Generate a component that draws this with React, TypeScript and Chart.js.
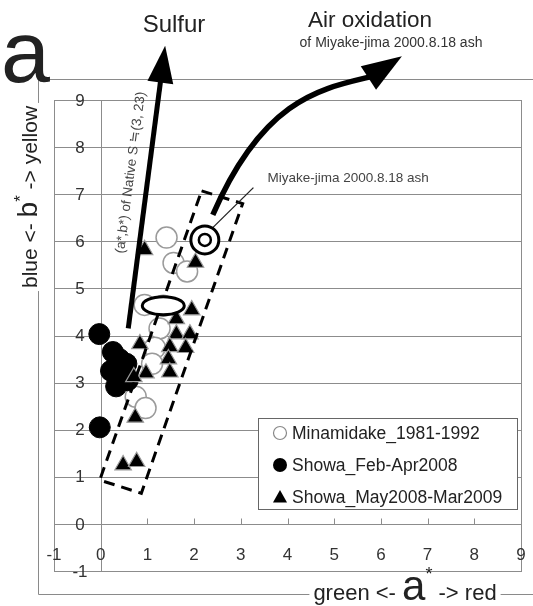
import { useEffect, useRef } from 'react';
import { Chart, registerables } from 'chart.js';

Chart.register(...registerables);

// CIE L*a*b* colour coordinates (a*, b*) of the ash samples
const minamidakeA = [1.41, 1.56, 1.85, 0.94, 1.34, 1.26, 1.16, 1.1, 0.75, 0.96];
const minamidakeB = [6.08, 5.54, 5.36, 4.65, 4.63, 4.15, 3.74, 3.4, 2.7, 2.46];

const showaEarlyA = [-0.03, -0.02, 0.26, 0.22, 0.33, 0.55, 0.58, 0.4];
const showaEarlyB = [4.03, 2.05, 3.65, 3.25, 2.92, 3.4, 3.05, 3.5];

const showaLateA = [0.94, 2.03, 1.95, 1.62, 1.62, 1.91, 0.84, 1.48, 1.82, 1.45, 1.48, 0.97, 0.71, 0.74, 0.48, 0.77];
const showaLateB = [5.82, 5.55, 4.54, 4.35, 4.03, 4.03, 3.82, 3.76, 3.74, 3.5, 3.22, 3.2, 3.12, 2.26, 1.25, 1.32];

const seriesNames = ['Minamidake_1981-1992', 'Showa_Feb-Apr2008', 'Showa_May2008-Mar2009'];

const xTicks = [-1, 0, 1, 2, 3, 4, 5, 6, 7, 8, 9];
const yTicks = [-1, 0, 1, 2, 3, 4, 5, 6, 7, 8, 9];

// reference marks and trend annotations, in (a*, b*) units
const miyakeAsh = [2.23, 6.03];
const minamidakeCentre = [1.34, 4.63];
const clusterBox = [[2.16, 7.07], [3.04, 6.8], [0.87, 0.65], [-0.02, 0.93]];
const sulfurFrom = [0.59, 4.15];
const sulfurTip = [1.38, 10.15];
const oxidationPath = [[2.4, 6.56], [3.51, 9.1], [4.79, 9.25], [5.77, 9.49]];
const oxidationTip = [6.45, 9.93];
const miyakeLeader = [[2.4, 6.29], [3.27, 7.14]];
const nativeSLabelAt = [0.645, 7.46];

const FONT = '"Liberation Sans", Arial, sans-serif';
const INK = '#222';
const GRID = '#8c8c8c';

type Run = { t: string; size: number; rise?: number };

function runsWidth(ctx: CanvasRenderingContext2D, runs: Run[]) {
  let w = 0;
  for (const r of runs) {
    ctx.font = `${r.size}px ${FONT}`;
    w += ctx.measureText(r.t).width;
  }
  return w;
}

function drawRuns(ctx: CanvasRenderingContext2D, runs: Run[], cx: number, baseline: number) {
  const w = runsWidth(ctx, runs);
  let x = cx - w / 2;
  ctx.textAlign = 'left';
  ctx.textBaseline = 'alphabetic';
  for (const r of runs) {
    ctx.font = `${r.size}px ${FONT}`;
    ctx.fillText(r.t, x, baseline - (r.rise || 0));
    x += ctx.measureText(r.t).width;
  }
  return w;
}

function arrowHead(ctx: CanvasRenderingContext2D, tip: number[], from: number[], len: number, half: number) {
  const dx = tip[0] - from[0];
  const dy = tip[1] - from[1];
  const d = Math.hypot(dx, dy);
  const ux = dx / d;
  const uy = dy / d;
  const bx = tip[0] - ux * len;
  const by = tip[1] - uy * len;
  ctx.beginPath();
  ctx.moveTo(tip[0], tip[1]);
  ctx.lineTo(bx - uy * half, by + ux * half);
  ctx.lineTo(bx + uy * half, by - ux * half);
  ctx.closePath();
  ctx.fill();
  return [bx + ux * 4, by + uy * 4];
}

function toPx(chart: Chart, p: number[]) {
  return [chart.scales.x.getPixelForValue(p[0]), chart.scales.y.getPixelForValue(p[1])];
}

// Axes, frame, grid and titles, drawn under the points
const backdrop = {
  id: 'backdrop',
  beforeDatasetsDraw(chart: Chart) {
    const ctx = chart.ctx;
    const xs = chart.scales.x;
    const ys = chart.scales.y;
    const left = Math.round(xs.getPixelForValue(-1)) + 0.5;
    const right = Math.round(xs.getPixelForValue(9)) + 0.5;
    const top = Math.round(ys.getPixelForValue(9)) + 0.5;
    const bottom = Math.round(ys.getPixelForValue(-1)) + 0.5;
    ctx.save();
    ctx.fillStyle = '#fff';
    ctx.fillRect(0, 0, chart.width, chart.height);

    // outer frame
    ctx.strokeStyle = '#8a8a8a';
    ctx.lineWidth = 1;
    ctx.beginPath();
    ctx.moveTo(chart.width, 79.5);
    ctx.lineTo(38.5, 79.5);
    ctx.lineTo(38.5, 594.5);
    ctx.lineTo(chart.width, 594.5);
    ctx.stroke();

    // plot box, horizontal grid and the a* = 0 line
    ctx.strokeStyle = GRID;
    ctx.strokeRect(left, top, right - left, bottom - top);
    ctx.beginPath();
    for (const v of yTicks) {
      if (v === -1 || v === 9) continue;
      const y = Math.round(ys.getPixelForValue(v)) + 0.5;
      ctx.moveTo(left, y);
      ctx.lineTo(right, y);
    }
    const x0 = Math.round(xs.getPixelForValue(0)) + 0.5;
    ctx.moveTo(x0, top);
    ctx.lineTo(x0, bottom);
    const y0 = Math.round(ys.getPixelForValue(0)) + 0.5;
    for (const v of xTicks) {
      if (v <= 0 || v >= 9) continue;
      const x = Math.round(xs.getPixelForValue(v)) + 0.5;
      ctx.moveTo(x, y0);
      ctx.lineTo(x, y0 - 6);
    }
    ctx.stroke();

    // tick labels
    ctx.fillStyle = '#333';
    ctx.font = `17px ${FONT}`;
    ctx.textAlign = 'center';
    ctx.textBaseline = 'middle';
    for (const v of yTicks) {
      ctx.fillText(String(v), 80, ys.getPixelForValue(v) + 1);
    }
    for (const v of xTicks) {
      ctx.fillText(String(v), xs.getPixelForValue(v), 555);
    }

    // y axis title, breaking the frame line
    ctx.save();
    ctx.translate(27, 197);
    ctx.rotate(-Math.PI / 2);
    const yRuns: Run[] = [
      { t: 'blue <- ', size: 21 },
      { t: 'b', size: 28 },
      { t: '*', size: 17, rise: 11 },
      { t: ' -> yellow', size: 21 },
    ];
    const yw = runsWidth(ctx, yRuns);
    ctx.fillStyle = '#fff';
    ctx.fillRect(-yw / 2 - 3, -14, yw + 6, 30);
    ctx.fillStyle = INK;
    drawRuns(ctx, yRuns, 0, 10);
    ctx.restore();

    // x axis title
    const xRuns: Run[] = [
      { t: 'green <- ', size: 22 },
      { t: 'a', size: 42 },
      { t: '*', size: 18, rise: 20 },
      { t: ' -> red', size: 22 },
    ];
    const xw = runsWidth(ctx, xRuns);
    ctx.fillStyle = '#fff';
    ctx.fillRect(405 - xw / 2 - 4, 584, xw + 8, 22);
    ctx.fillStyle = INK;
    drawRuns(ctx, xRuns, 405, 600);

    // panel letter
    ctx.font = `88px ${FONT}`;
    ctx.textAlign = 'left';
    ctx.fillText('a', 1, 82);
    ctx.restore();
  },
};

// Trend box, arrows, reference marks, labels and legend, drawn over the points
const overlay = {
  id: 'overlay',
  afterDatasetsDraw(chart: Chart) {
    const ctx = chart.ctx;
    ctx.save();
    ctx.strokeStyle = '#000';
    ctx.fillStyle = '#000';
    ctx.lineCap = 'butt';

    // dashed envelope around the Sakurajima samples
    ctx.setLineDash([11, 7]);
    ctx.lineWidth = 3;
    ctx.beginPath();
    clusterBox.forEach((p, i) => {
      const [x, y] = toPx(chart, p);
      if (i === 0) ctx.moveTo(x, y);
      else ctx.lineTo(x, y);
    });
    ctx.closePath();
    ctx.stroke();
    ctx.setLineDash([]);

    // sulfur trend
    const sFrom = toPx(chart, sulfurFrom);
    const sTip = toPx(chart, sulfurTip);
    const sBase = arrowHead(ctx, sTip, sFrom, 37, 13);
    ctx.lineWidth = 5;
    ctx.beginPath();
    ctx.moveTo(sFrom[0], sFrom[1]);
    ctx.lineTo(sBase[0], sBase[1]);
    ctx.stroke();

    // air oxidation trend
    const op = oxidationPath.map((p) => toPx(chart, p));
    const oTip = toPx(chart, oxidationTip);
    arrowHead(ctx, oTip, op[3], 40, 14);
    ctx.lineWidth = 5.5;
    ctx.beginPath();
    ctx.moveTo(op[0][0], op[0][1]);
    ctx.bezierCurveTo(op[1][0], op[1][1], op[2][0], op[2][1], op[3][0] + 4, op[3][1] - 1);
    ctx.stroke();

    // Minamidake centre
    const mc = toPx(chart, minamidakeCentre);
    ctx.lineWidth = 3;
    ctx.fillStyle = '#fff';
    ctx.beginPath();
    ctx.ellipse(mc[0], mc[1], 21, 9, 0, 0, Math.PI * 2);
    ctx.fill();
    ctx.stroke();

    // Miyake-jima ash
    const ma = toPx(chart, miyakeAsh);
    const l0 = toPx(chart, miyakeLeader[0]);
    const l1 = toPx(chart, miyakeLeader[1]);
    ctx.strokeStyle = '#222';
    ctx.lineWidth = 1.3;
    ctx.beginPath();
    ctx.moveTo(l0[0], l0[1]);
    ctx.lineTo(l1[0], l1[1]);
    ctx.stroke();
    ctx.strokeStyle = '#000';
    ctx.lineWidth = 3;
    ctx.beginPath();
    ctx.arc(ma[0], ma[1], 14, 0, Math.PI * 2);
    ctx.fill();
    ctx.stroke();
    ctx.lineWidth = 2.5;
    ctx.beginPath();
    ctx.arc(ma[0], ma[1], 6, 0, Math.PI * 2);
    ctx.stroke();

    // labels
    ctx.fillStyle = '#444';
    ctx.textAlign = 'left';
    ctx.textBaseline = 'alphabetic';
    ctx.font = `13.5px ${FONT}`;
    ctx.fillText('Miyake-jima 2000.8.18 ash', l1[0] + 14, l1[1] - 6);

    const nl = toPx(chart, nativeSLabelAt);
    const ang = Math.atan2(sTip[1] - sFrom[1], sTip[0] - sFrom[0]);
    ctx.save();
    ctx.translate(nl[0], nl[1]);
    ctx.rotate(ang);
    ctx.textAlign = 'center';
    ctx.textBaseline = 'middle';
    ctx.font = `13.5px ${FONT}`;
    ctx.fillText('(a*,b*) of Native S \u2252(3, 23)', 0, 0);
    ctx.restore();

    ctx.fillStyle = INK;
    ctx.textAlign = 'center';
    ctx.font = `24px ${FONT}`;
    ctx.fillText('Sulfur', 174, 32);
    ctx.font = `22.5px ${FONT}`;
    ctx.fillText('Air oxidation', 370, 27);
    ctx.fillStyle = '#333';
    ctx.font = `14px ${FONT}`;
    ctx.fillText('of Miyake-jima 2000.8.18 ash', 391, 47);

    // legend
    ctx.fillStyle = '#fff';
    ctx.strokeStyle = '#666';
    ctx.lineWidth = 1;
    ctx.fillRect(258.5, 418.5, 259, 91);
    ctx.strokeRect(258.5, 418.5, 259, 91);
    const rows = [433, 465, 497];
    const mx = 280;
    ctx.lineWidth = 1.2;
    ctx.strokeStyle = '#888';
    ctx.beginPath();
    ctx.arc(mx, rows[0], 6.5, 0, Math.PI * 2);
    ctx.stroke();
    ctx.fillStyle = '#000';
    ctx.beginPath();
    ctx.arc(mx, rows[1], 7, 0, Math.PI * 2);
    ctx.fill();
    ctx.beginPath();
    ctx.moveTo(mx, rows[2] - 7);
    ctx.lineTo(mx + 7, rows[2] + 5.5);
    ctx.lineTo(mx - 7, rows[2] + 5.5);
    ctx.closePath();
    ctx.fill();
    ctx.fillStyle = INK;
    ctx.textAlign = 'left';
    ctx.textBaseline = 'middle';
    ctx.font = `17.5px ${FONT}`;
    seriesNames.forEach((n, i) => ctx.fillText(n, 292, rows[i] + 1));

    ctx.restore();
  },
};

const zip = (a: number[], b: number[]) => a.map((x, i) => ({ x, y: b[i] }));

export default function App() {
  const ref = useRef<HTMLCanvasElement>(null);

  useEffect(() => {
    const chart = new Chart(ref.current!, {
      type: 'scatter',
      data: {
        datasets: [
          {
            label: seriesNames[0],
            data: zip(minamidakeA, minamidakeB),
            pointStyle: 'circle',
            pointRadius: 10.5,
            backgroundColor: '#fff',
            borderColor: '#9a9a9a',
            borderWidth: 1.5,
            order: 3,
          },
          {
            label: seriesNames[1],
            data: zip(showaEarlyA, showaEarlyB),
            pointStyle: 'circle',
            pointRadius: 10.5,
            backgroundColor: '#000',
            borderColor: '#000',
            borderWidth: 1,
            order: 2,
          },
          {
            label: seriesNames[2],
            data: zip(showaLateA, showaLateB),
            pointStyle: 'triangle',
            pointRadius: 9.5,
            backgroundColor: '#000',
            borderColor: '#9a9a9a',
            borderWidth: 1.2,
            order: 1,
          },
        ],
      },
      options: {
        animation: false,
        responsive: false,
        devicePixelRatio: 1,
        layout: { padding: { left: 54, top: 100, right: 11, bottom: 35 } },
        scales: {
          x: { type: 'linear', min: -1, max: 9, display: false },
          y: { type: 'linear', min: -1, max: 9, display: false },
        },
        plugins: {
          legend: { display: false },
          tooltip: { enabled: false },
        },
      },
      plugins: [backdrop, overlay],
    });
    return () => chart.destroy();
  }, []);

  return (
    <div style={{ position: 'fixed', left: 0, top: 0, width: 533, height: 606, background: '#fff' }}>
      <canvas ref={ref} width={533} height={606} style={{ display: 'block' }} />
    </div>
  );
}
